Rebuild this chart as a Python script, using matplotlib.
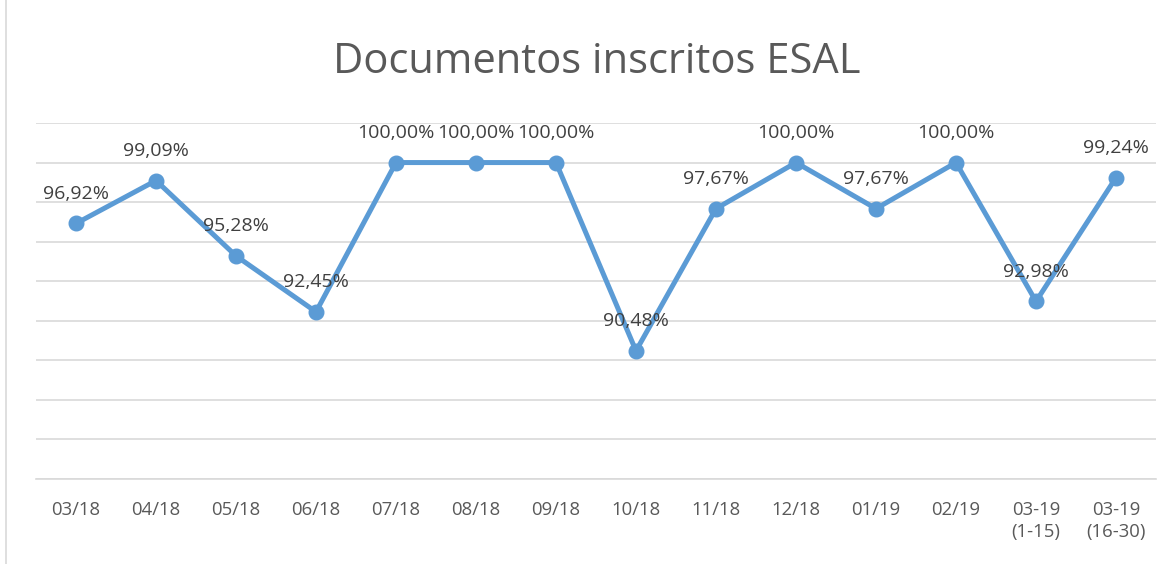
import matplotlib
matplotlib.use('Agg')
import matplotlib.pyplot as plt
from matplotlib.lines import Line2D

plt.rcParams['font.family'] = ['Open Sans', 'DejaVu Sans']

meses = ['03/18', '04/18', '05/18', '06/18', '07/18', '08/18', '09/18',
         '10/18', '11/18', '12/18', '01/19', '02/19', '03-19\n(1-15)', '03-19\n(16-30)']
porcentajes = [96.92, 99.09, 95.28, 92.45, 100.00, 100.00, 100.00,
               90.48, 97.67, 100.00, 97.67, 100.00, 92.98, 99.24]
titulo = 'Documentos inscritos ESAL'

azul = '#5B9BD5'
gris_titulo = '#595959'
gris_texto = '#404040'

fig = plt.figure(figsize=(11.7, 5.64), dpi=100)
ax = fig.add_axes([36 / 1170, 1 - 479 / 564, 1120 / 1170, 356 / 564])

x = list(range(len(meses)))
ax.plot(x, porcentajes, color=azul, linewidth=3.6, marker='o', markersize=10.5,
        solid_joinstyle='round', zorder=3)

for xi, v in zip(x, porcentajes):
    etiqueta = ('%.2f%%' % v).replace('.', ',')
    ax.annotate(etiqueta, (xi, v), xytext=(0, 15), textcoords='offset points',
                ha='center', va='bottom', fontsize=14, color=gris_texto, zorder=4)

ax.set_xlim(-0.5, len(meses) - 0.5)
ax.set_ylim(84, 102)
ax.set_yticks(range(84, 103, 2))
ax.yaxis.grid(True, color='#D9D9D9', linewidth=1.2)
ax.set_axisbelow(True)
ax.tick_params(axis='y', left=False, labelleft=False)
ax.set_xticks(x)
ax.set_xticklabels(meses, fontsize=13.3, color=gris_titulo, linespacing=1.3)
ax.tick_params(axis='x', length=0, pad=16)
for s in ['top', 'left', 'right']:
    ax.spines[s].set_visible(False)
ax.spines['bottom'].set_color('#D9D9D9')
ax.spines['bottom'].set_linewidth(1.2)

fig.text(597 / 1170, 1 - 62 / 564, titulo, ha='center', va='center',
         fontsize=30, color=gris_titulo)

# borde del area del grafico
fig.add_artist(Line2D([6 / 1170, 6 / 1170], [0, 1], color='#D9D9D9', linewidth=1.2,
                      transform=fig.transFigure))

fig.savefig('out.png', dpi=100)
